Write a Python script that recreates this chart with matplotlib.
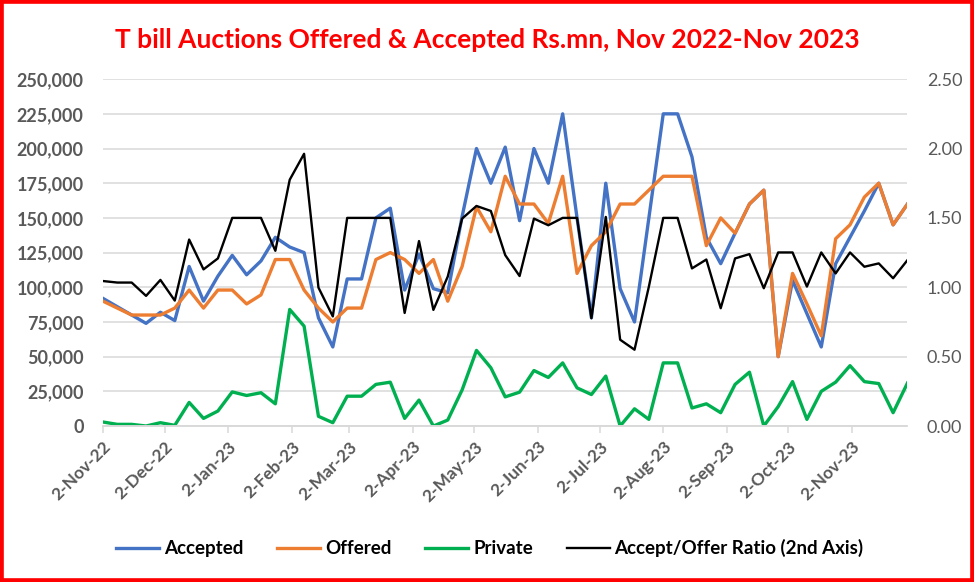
import matplotlib
matplotlib.use("Agg")
import matplotlib.pyplot as plt
from matplotlib.patches import Rectangle
import pandas as pd

# weekly auctions, Nov 2022 - Nov 2023 (Rs.mn)
dates = pd.date_range("2022-11-02", periods=57, freq="7D")

accepted = [92000, 86000, 80000, 74000, 82000, 76000, 115000, 90000, 108000, 123000,
            109000, 119000, 136000, 129000, 125000, 78000, 57000, 106000, 106000, 150000,
            157000, 98000, 124000, 99000, 96000, 151000, 200000, 175000, 201000, 148000,
            200000, 175000, 225000, 150000, 78000, 175000, 99000, 75000, 150000, 225000,
            225000, 194000, 136000, 117000, 139000, 160000, 170000, 50000, 105000, 81000,
            57000, 117000, 136000, 155000, 175000, 145000, 160000]

offered = [90000, 85000, 80000, 80000, 80000, 85000, 98000, 85000, 98000, 98000,
           88000, 94500, 120000, 120000, 98000, 85000, 75000, 85000, 85000, 120000,
           125000, 120000, 110000, 120000, 90000, 115000, 158000, 140000, 180000, 160000,
           160000, 146000, 180000, 110000, 130000, 140000, 160000, 160000, 170000, 180000,
           180000, 180000, 130000, 150000, 139000, 160000, 170000, 50000, 110000, 88000,
           65000, 135000, 145000, 165000, 175000, 145000, 160000]

private = [2900, 1200, 1200, 0, 2400, 500, 17000, 5500, 10800, 24600,
           22000, 24000, 16000, 84000, 72000, 7000, 2400, 21500, 21500, 30000,
           31600, 5500, 18700, 0, 4300, 26000, 54500, 42000, 21000, 24400,
           40000, 35000, 45500, 27500, 22700, 36000, 0, 12400, 4800, 45500,
           45500, 13000, 16000, 9600, 30000, 38800, 0, 14000, 32000, 4800,
           25000, 31600, 43500, 32000, 30600, 9600, 31000]

ratio = [1.045, 1.034, 1.034, 0.938, 1.053, 0.904, 1.344, 1.129, 1.208, 1.50,
         1.50, 1.50, 1.263, 1.775, 1.962, 0.998, 0.79, 1.50, 1.50, 1.50,
         1.50, 0.815, 1.333, 0.837, 1.077, 1.495, 1.586, 1.55, 1.232, 1.081,
         1.495, 1.447, 1.50, 1.50, 0.777, 1.507, 0.622, 0.55, 1.005, 1.50,
         1.50, 1.136, 1.20, 0.849, 1.208, 1.239, 0.993, 1.251, 1.251, 1.005,
         1.251, 1.10, 1.251, 1.148, 1.172, 1.065, 1.196]

tick_dates = pd.date_range("2022-11-02", "2023-11-02", freq=pd.DateOffset(months=1))
tick_labels = [f"{d.day}-{d.strftime('%b-%y')}" for d in tick_dates]

plt.rcParams["font.family"] = ["Lato", "DejaVu Sans"]
grey = "#595959"
gridc = "#D9D9D9"

fig = plt.figure(figsize=(9.74, 5.82), dpi=100)
ax = fig.add_axes([0.1057, 0.268, 0.826, 0.596])
ax2 = ax.twinx()

l1, = ax.plot(dates, accepted, color="#4472C4", lw=2.4, label="Accepted")
l2, = ax.plot(dates, offered, color="#ED7D31", lw=2.4, label="Offered")
l3, = ax.plot(dates, private, color="#00B050", lw=2.4, label="Private")
l4, = ax2.plot(dates, ratio, color="black", lw=1.7, label="Accept/Offer Ratio (2nd Axis)")

ax.set_xlim(dates[0], dates[-1])
ax.set_ylim(0, 250000)
ax.set_yticks(range(0, 250001, 25000))
ax.set_yticklabels([f"{v:,}" for v in range(0, 250001, 25000)])
ax2.set_ylim(0, 2.5)
ax2.set_yticks([0, 0.5, 1.0, 1.5, 2.0, 2.5])
ax2.set_yticklabels([f"{v:.2f}" for v in [0, 0.5, 1.0, 1.5, 2.0, 2.5]])

ax.set_xticks(tick_dates)
ax.set_xticklabels(tick_labels, rotation=45, ha="right", rotation_mode="anchor",
                   fontsize=12.5, fontweight="bold", color=grey)

ax.grid(axis="y", color=gridc, lw=1.1)
ax.set_axisbelow(True)
for a in (ax, ax2):
    for s in ["top", "left", "right"]:
        a.spines[s].set_visible(False)
    a.spines["bottom"].set_color(gridc)
    a.spines["bottom"].set_linewidth(1.1)

ax.tick_params(axis="y", length=0, pad=14, labelsize=13, labelcolor=grey)
for t in ax.get_yticklabels():
    t.set_fontweight("bold")
ax2.tick_params(axis="y", length=0, pad=14, labelsize=13, labelcolor=grey)
ax.tick_params(axis="x", length=5, color=gridc, width=1.1, pad=4)

fig.suptitle("T bill Auctions Offered & Accepted Rs.mn, Nov 2022-Nov 2023",
             x=0.5, y=0.952, fontsize=19, fontweight="bold", color="#FF0000")

leg = fig.legend(handles=[l1, l2, l3, l4], loc="center", bbox_to_anchor=(0.503, 0.058),
                 ncol=4, frameon=False, handlelength=2.3, handletextpad=0.25,
                 columnspacing=1.8, fontsize=13.5)
for t in leg.get_texts():
    t.set_fontweight("bold")
    t.set_color("black")

fig.patches.append(Rectangle((0, 0), 1, 1, transform=fig.transFigure, fill=False,
                             edgecolor="#FF0000", lw=5.5))

fig.savefig("out.png", dpi=100)
